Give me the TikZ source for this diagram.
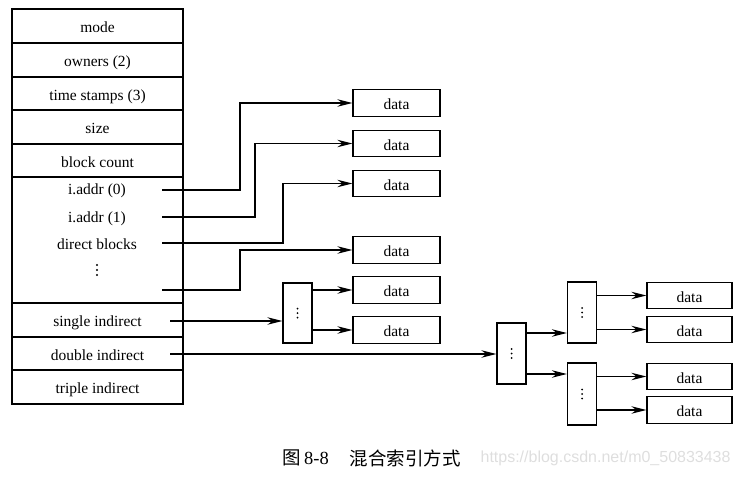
\documentclass[tikz,border=0pt]{standalone}
\usepackage{fontspec}
\setmainfont{Liberation Serif}
\newfontfamily\cjk{Noto Sans CJK SC}
\newfontfamily\wmfont{Liberation Sans}
\usetikzlibrary{arrows.meta,positioning}
\begin{document}
\begin{tikzpicture}[x=1pt,y=-1pt,
  line width=1.2pt,
  txt/.style={font=\fontsize{15.5}{17}\selectfont, text height=15pt, text depth=2pt},
  lbl/.style={txt, inner sep=0pt},
  row/.style={txt, draw, line width=1.3pt, minimum width=171pt, inner sep=0pt},
  databox/.style={txt, draw, line width=1.3pt, minimum height=26.5pt, inner sep=0pt},
  ptrbox/.style={draw, line width=1.3pt, minimum width=29pt, inner sep=0pt},
  dot/.style={fill, circle, inner sep=0pt, minimum size=2.2pt},
  arr/.style={-{Stealth[length=15pt,width=7.5pt,inset=5pt]}, line width=1.2pt}]
\useasboundingbox (0,0) rectangle (747,479);

% inode table
\node[row, minimum height=34pt]  (mode)   at (97.5,26)    {mode};
\node[row, minimum height=34pt]  (owners) at (97.5,60)    {owners (2)};
\node[row, minimum height=33pt]  (stamps) at (97.5,93.5)  {time stamps (3)};
\node[row, minimum height=34pt]  (size)   at (97.5,127)   {size};
\node[row, minimum height=33pt]  (count)  at (97.5,160.5) {block count};
\node[row, minimum height=126pt] (direct) at (97.5,240)   {};
\node[row, minimum height=34pt]  (single) at (97.5,320)   {single indirect};
\node[row, minimum height=33pt]  (double) at (97.5,353.5) {double indirect};
\node[row, minimum height=34pt]  (triple) at (97.5,387)   {triple indirect};

\node[lbl] (a0) at (97,188) {i.addr (0)};
\node[lbl] (a1) at (97,216) {i.addr (1)};
\node[lbl] (db) at (97,243) {direct blocks};
% vertical ellipsis in the direct-block cell
\foreach \yy in {265,270,275} \node[dot] at (97,\yy) {};

% pointer start points
\coordinate (p0) at (162,190);
\coordinate (p1) at (162,217);
\coordinate (p2) at (162,243);
\coordinate (p3) at (162,290);
\coordinate (ps) at (170,321);
\coordinate (pd) at (170,354);

% direct data blocks
\node[databox, minimum width=87pt] (d1) at (396.5,103)   {data};
\node[databox, minimum width=87pt] (d2) at (396.5,143.5) {data};
\node[databox, minimum width=87pt] (d3) at (396.5,183.5) {data};
\node[databox, minimum width=87pt] (d4) at (396.5,250)   {data};
\node[databox, minimum width=87pt] (d5) at (396.5,290)   {data};
\node[databox, minimum width=87pt] (d6) at (396.5,330)   {data};

% indirect blocks
\node[ptrbox, minimum height=60pt] (s1) at (297.5,313)   {};
\node[ptrbox, minimum height=61pt] (i1) at (511.5,353.5) {};
\node[ptrbox, minimum height=61pt] (i2) at (582,312.5)   {};
\node[ptrbox, minimum height=62pt] (i3) at (582,394)     {};
\foreach \b in {s1,i1,i2,i3}
  \foreach \dy in {-4.5,0,4.5}
    \node[dot, minimum size=2pt] at ([yshift=\dy pt]\b.center) {};

% doubly indirect data blocks
\node[databox, minimum width=85pt] (e1) at (689.5,295.5) {data};
\node[databox, minimum width=85pt] (e2) at (689.5,329.5) {data};
\node[databox, minimum width=85pt] (e3) at (689.5,376.5) {data};
\node[databox, minimum width=85pt] (e4) at (689.5,410)   {data};

% direct pointers
\draw[arr] (p0) -- ++(78,0)  |- (d1.west);
\draw[arr] (p1) -- ++(93,0)  |- (d2.west);
\draw[arr] (p2) -- ++(121,0) |- (d3.west);
\draw[arr] (p3) -- ++(78,0)  |- (d4.west);

% single indirect
\draw[arr] (ps) -- (ps -| s1.west);
\draw[arr] (s1.east |- d5.west) -- (d5.west);
\draw[arr] (s1.east |- d6.west) -- (d6.west);

% double indirect
\draw[arr] (pd) -- (pd -| i1.west);
\draw[arr] ([yshift=20.5pt]i1.east) coordinate (q1) -- (q1 -| i2.west);
\draw[arr] ([yshift=-20.5pt]i1.east) coordinate (q2) -- (q2 -| i3.west);
\draw[arr] (i2.east |- e1.west) -- (e1.west);
\draw[arr] (i2.east |- e2.west) -- (e2.west);
\draw[arr] (i3.east |- e3.west) -- (e3.west);
\draw[arr] (i3.east |- e4.west) -- (e4.west);

% caption
\node[anchor=west, inner sep=0pt, font=\fontsize{18.5}{20}\selectfont] (cap1) at (282,458) {{\cjk 图}\,8-8};
\node[anchor=west, inner sep=0pt, font=\fontsize{18.5}{20}\selectfont\cjk] (cap2) at (349,458) {混合索引方式};
\node[anchor=west, inner sep=0pt, text=black!13, font=\fontsize{16}{18}\selectfont\wmfont] (wm) at (480,458) {https://blog.csdn.net/m0\_50833438};
\end{tikzpicture}
\end{document}
